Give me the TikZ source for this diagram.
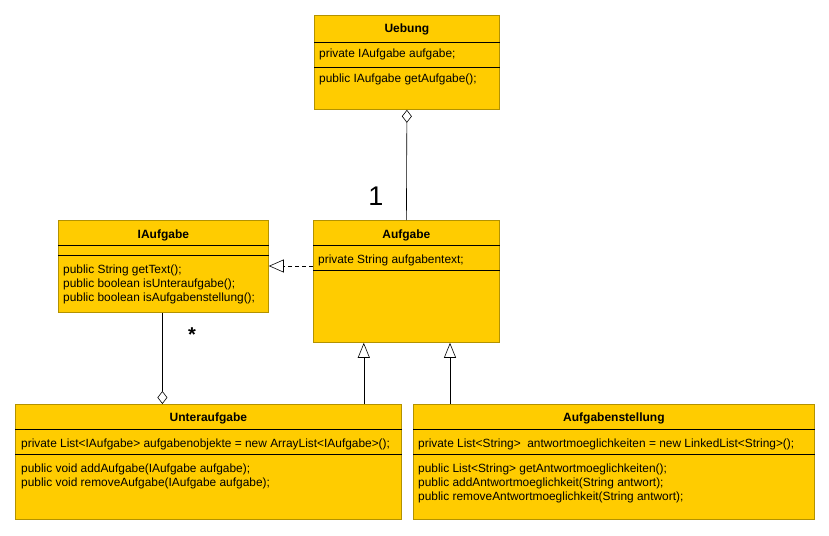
\documentclass[tikz,border=0pt]{standalone}
\usepackage{fontspec}
\setmainfont{Liberation Sans}
\usepackage{xcolor}
\usetikzlibrary{arrows.meta, positioning}
\definecolor{classfill}{HTML}{FFCC00}
\definecolor{classedge}{HTML}{B39200}

\begin{document}
\begin{tikzpicture}[
    x=1pt, y=-1pt,
    umlclass/.style={draw=classedge, fill=classfill, anchor=north west,
                     inner sep=0pt, line width=0.8pt},
    ctitle/.style={anchor=base, inner sep=0pt,
                   font=\bfseries\fontsize{12}{14}\selectfont},
    member/.style={anchor=base west, inner sep=0pt, align=left,
                   font=\fontsize{11.9}{14}\selectfont},
    sep/.style={draw=black, line width=0.6pt},
    inherit/.style={-{Triangle[open, length=15pt, width=12pt]}, line width=0.6pt},
    aggr/.style={line width=0.6pt},
  ]
    \useasboundingbox[fill=white] (0,0) rectangle (829,535);

    % classes
    \node[umlclass, minimum width=185pt, minimum height=94pt] (uebung) at (314,15) {};
    \node[umlclass, minimum width=210pt, minimum height=92pt] (iaufgabe) at (58,220) {};
    \node[umlclass, minimum width=186pt, minimum height=122pt] (aufgabe) at (313,220) {};
    \node[umlclass, minimum width=386pt, minimum height=115pt] (unteraufgabe) at (15,404) {};
    \node[umlclass, minimum width=401pt, minimum height=115pt] (aufgabenstellung) at (413,404) {};

    % compartments
    \draw[sep] ([yshift=-27pt]uebung.north west) -- ([yshift=-27pt]uebung.north east);
    \draw[sep] ([yshift=-52pt]uebung.north west) -- ([yshift=-52pt]uebung.north east);
    \draw[sep] ([yshift=-25pt]iaufgabe.north west) -- ([yshift=-25pt]iaufgabe.north east);
    \draw[sep] ([yshift=-35pt]iaufgabe.north west) -- ([yshift=-35pt]iaufgabe.north east);
    \draw[sep] ([yshift=-25pt]aufgabe.north west) -- ([yshift=-25pt]aufgabe.north east);
    \draw[sep] ([yshift=-50pt]aufgabe.north west) -- ([yshift=-50pt]aufgabe.north east);
    \draw[sep] ([yshift=-25pt]unteraufgabe.north west) -- ([yshift=-25pt]unteraufgabe.north east);
    \draw[sep] ([yshift=-50pt]unteraufgabe.north west) -- ([yshift=-50pt]unteraufgabe.north east);
    \draw[sep] ([yshift=-25pt]aufgabenstellung.north west) -- ([yshift=-25pt]aufgabenstellung.north east);
    \draw[sep] ([yshift=-50pt]aufgabenstellung.north west) -- ([yshift=-50pt]aufgabenstellung.north east);

    % texts (multi-line nodes sit on their last baseline)
    \node[ctitle] (uebungname) at ([yshift=-18pt]uebung.north) {Uebung};
    \node[member] (uebungattr) at ([xshift=5pt, yshift=-42pt]uebung.north west)
      {private IAufgabe aufgabe;};
    \node[member] (uebungops) at ([xshift=5pt, yshift=-67pt]uebung.north west)
      {public IAufgabe getAufgabe();};

    \node[ctitle] (iaufgabename) at ([yshift=-18pt]iaufgabe.north) {IAufgabe};
    \node[member] (iaufgabeops) at ([xshift=5pt, yshift=-81pt]iaufgabe.north west)
      {public String getText();\\public boolean isUnteraufgabe();\\public boolean isAufgabenstellung();};

    \node[ctitle] (aufgabename) at ([yshift=-18pt]aufgabe.north) {Aufgabe};
    \node[member] (aufgabeattr) at ([xshift=5pt, yshift=-43pt]aufgabe.north west)
      {private String aufgabentext;};

    \node[ctitle] (unteraufgabename) at ([yshift=-17pt]unteraufgabe.north) {Unteraufgabe};
    \node[member] (unteraufgabeattr) at ([xshift=6pt, yshift=-43pt]unteraufgabe.north west)
      {private List<IAufgabe> aufgabenobjekte = new ArrayList<IAufgabe>();};
    \node[member] (unteraufgabeops) at ([xshift=6pt, yshift=-82pt]unteraufgabe.north west)
      {public void addAufgabe(IAufgabe aufgabe);\\public void removeAufgabe(IAufgabe aufgabe);};

    \node[ctitle] (aufgabenstellungname) at ([yshift=-17pt]aufgabenstellung.north) {Aufgabenstellung};
    \node[member] (aufgabenstellungattr) at ([xshift=5pt, yshift=-43pt]aufgabenstellung.north west)
      {private List<String>\ \ antwortmoeglichkeiten = new LinkedList<String>();};
    \node[member] (aufgabenstellungops) at ([xshift=5pt, yshift=-96pt]aufgabenstellung.north west)
      {public List<String> getAntwortmoeglichkeiten();\\public addAntwortmoeglichkeit(String antwort);\\public removeAntwortmoeglichkeit(String antwort);};

    % relations
    \draw[aggr, {Diamond[open, length=13pt, width=10pt]}-] (uebung.south) -- (aufgabe.north);
    \node[font=\fontsize{27}{30}\selectfont, inner sep=0pt] (onelabel) at (376,196) {1};

    \draw[dashed, dash pattern=on 4pt off 3pt, line width=0.6pt,
          -{Triangle[open, length=15pt, width=13pt]}]
      ([yshift=-46pt]aufgabe.north west) -- ([yshift=-46pt]iaufgabe.north east);

    \draw[aggr, -{Diamond[open, length=13pt, width=10pt]}]
      ([xshift=-1pt]iaufgabe.south) -- ([xshift=-1pt]iaufgabe.south |- unteraufgabe.north);
    \node[font=\bfseries\fontsize{20}{22}\selectfont, inner sep=0pt] (manylabel) at (192,335) {*};

    \draw[inherit] ([xshift=-38pt]unteraufgabe.north east) -- ([xshift=-38pt]unteraufgabe.north east |- aufgabe.south);
    \draw[inherit] ([xshift=37pt]aufgabenstellung.north west) -- ([xshift=37pt]aufgabenstellung.north west |- aufgabe.south);
  \end{tikzpicture}
\end{document}
